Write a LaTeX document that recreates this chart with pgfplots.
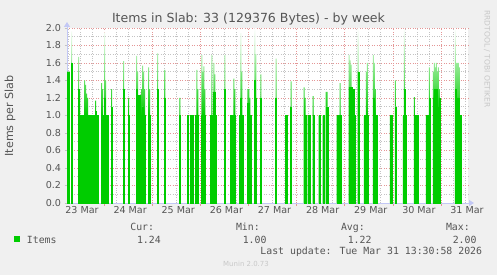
\documentclass[border=0pt]{standalone}
\usepackage{pgfplots}
\pgfplotsset{compat=1.18}
\usepackage{pgfplotstable}
\usepackage{fontspec}
\setmainfont{DejaVu Sans}
\newfontfamily\monofont{DejaVu Sans Mono}
\usetikzlibrary{arrows.meta}
\definecolor{bgc}{RGB}{240,240,240}
\definecolor{txt}{RGB}{85,85,85}
\definecolor{mgrid}{RGB}{228,150,150}
\definecolor{mingrid}{RGB}{195,195,195}
\definecolor{axc}{RGB}{195,200,245}
\definecolor{itemgreen}{RGB}{0,204,0}
\definecolor{faint}{RGB}{200,200,200}

\pgfplotstableread{
x s e
5.75 1.5 0
6.25 1.5 0
7.75 1.6 0.36
11.25 1.3 0.37
11.75 1.0 0.3
12.25 1.0 0
12.75 1.0 0
13.25 1.0 0
13.75 1.0 0
14.25 1.0 0.4
14.75 1.0 0.35
15.25 1.0 0.25
15.75 1.0 0.2
16.25 1.0 0
16.75 1.0 0
17.25 1.0 0
17.75 1.0 0
18.25 1.0 0
18.75 1.0 0
19.75 1.05 0.12
20.25 1.0 0
20.75 1.0 0
22.75 1.0 0.37
23.25 1.0 0.3
23.75 1.0 0
24.25 1.2 0.75
24.75 1.0 0.4
25.25 1.0 0
25.75 1.0 0
27.75 1.1 0.2
33.75 1.3 0.32
36.25 1.0 0.2
40.25 1.3 0.38
40.75 1.0 0.5
41.25 1.23 0
41.75 1.23 0
42.75 1.0 0.3
43.25 1.1 0.47
43.75 1.0 0.5
44.25 1.0 0.3
46.25 1.0 0.55
46.75 1.0 0.3
50.75 1.3 0.41
54.25 1.2 0.32
61.75 1.0 0.2
65.75 1.0 0
67.25 1.0 0
67.75 1.0 0
68.25 1.0 0
69.75 1.0 0
70.25 1.0 0.52
70.75 1.0 0.3
72.75 1.0 0.69
73.25 1.0 0.5
73.75 1.0 0.56
74.25 1.0 0.3
77.25 1.0 0
77.75 1.0 0.69
78.25 1.0 0
78.75 1.27 0.33
79.25 1.27 0.2
79.75 1.0 0
84.25 1.3 0.39
87.25 1.0 0
87.75 1.0 0
88.25 1.0 0
88.75 1.0 0.42
89.25 1.0 0.3
91.75 1.0 0
92.25 1.2 0.74
92.75 1.0 0.5
93.25 1.0 0
95.75 1.14 0.16
96.25 1.14 0.16
96.75 1.0 0.2
97.25 1.0 0
99.25 1.4 0.6
99.75 1.2 0.5
102.25 1.2 0.27
109.75 1.2 0.45
114.75 1.0 0
115.25 1.0 0
117.25 1.1 0.29
123.75 1.0 0.32
124.25 1.0 0.2
125.75 1.0 0
126.25 1.0 0
128.25 1.0 0.22
131.25 1.0 0
133.25 1.0 0
134.75 1.1 0.17
135.25 1.1 0.17
140.25 1.0 0
140.75 1.0 0
141.25 1.0 0
141.75 1.0 0.37
146.25 1.33 0.36
146.75 1.33 0.3
147.25 1.33 0.25
147.75 1.3 0
148.25 1.3 0
148.75 1.0 0.3
150.75 1.5 0.5
153.75 1.0 0
154.25 1.0 0
154.75 1.0 0.5
155.25 1.0 0.6
158.25 1.2 0.49
158.75 1.0 0.6
159.25 1.0 0.3
159.75 1.0 0
166.75 1.0 0
167.25 1.0 0
169.25 1.1 0.3
173.25 1.0 0
173.75 1.3 0.7
174.25 1.0 0
178.75 1.0 0.21
179.25 1.0 0
179.75 1.0 0
180.25 1.0 0
184.75 1.0 0
185.25 1.0 0
186.25 1.2 0.35
188.25 1.2 0.3
188.75 1.3 0.3
189.25 1.0 0.55
189.75 1.3 0.3
190.25 1.1 0.4
190.75 1.0 0.55
191.25 1.2 0.1
199.25 1.3 0.68
199.75 1.0 0.6
200.25 1.2 0.4
200.75 1.2 0.4
201.25 1.0 0.55
201.75 1.0 0
}\slabdata

\begin{document}
\begin{tikzpicture}[x=1bp,y=1bp]
\useasboundingbox (0,0) rectangle (497,275);
\fill[bgc] (0,0) rectangle (497,275);
\fill[white] (67,72) rectangle (468,247);
\begin{axis}[
  at={(67bp,72bp)}, anchor=south west,
  scale only axis, width=401bp, height=175bp,
  xmin=5.5, xmax=205.5, ymin=0, ymax=2,
  axis lines=left,
  axis line style={axc, line width=0.8bp},
  x axis line style={-{Triangle[width=6bp,length=5bp]}, shorten >=-6bp},
  y axis line style={-{Triangle[width=6bp,length=5bp]}, shorten >=-6bp},
  ybar stacked, bar width=0.5,
  xtick={24,48,72,96,120,144,168,192},
  xticklabels={},
  minor xtick={6,12,18,30,36,42,54,60,66,78,84,90,102,108,114,126,132,138,150,156,162,174,180,186,198,204},
  extra x ticks={13,37,61,85,109,133,157,181,205},
  extra x tick labels={23 Mar,24 Mar,25 Mar,26 Mar,27 Mar,28 Mar,29 Mar,30 Mar,31 Mar},
  extra x tick style={grid=none, major tick length=0pt},
  ytick={0,0.2,0.4,0.6,0.8,1,1.2,1.4,1.6,1.8,2},
  minor ytick={0.1,0.3,0.5,0.7,0.9,1.1,1.3,1.5,1.7,1.9},
  yticklabel style={/pgf/number format/.cd, fixed, fixed zerofill, precision=1, assume math mode=true},
  ticklabel style={font=\fontsize{9.6}{11}\selectfont, text=txt},
  grid=both,
  major grid style={mgrid, dash pattern=on 1bp off 1.4bp, line width=0.6bp},
  minor grid style={mingrid, dash pattern=on 1bp off 1.4bp, line width=0.6bp},
  major tick length=2.5bp, minor tick length=0pt,
  xtick style={mgrid, line width=0.6bp},
  ytick style={mingrid, line width=0.6bp},
  tick align=outside,
  clip=false,
]
\addplot[fill=itemgreen, draw=itemgreen, line width=0.15bp] table[x=x,y=s]{\slabdata};
\addplot[draw=none, top color=white, middle color=itemgreen!70!white, bottom color=itemgreen] table[x=x,y=e]{\slabdata};
\end{axis}
\node[text=txt, font=\fontsize{12.6}{14}\selectfont] at (248.5,256) {Items in Slab: 33 (129376 Bytes) - by week};
\node[text=txt, rotate=90, font=\fontsize{11.2}{13}\selectfont] at (10,159) {Items per Slab};
\node[text=faint, rotate=-90, font=\fontsize{7.6}{9}\selectfont] at (487,216) {RRDTOOL / TOBI OETIKER};
\fill[itemgreen] (14,33) rectangle (20,39);
\begin{scope}[every node/.style={text=txt, font=\monofont\fontsize{9.9}{11}\selectfont, inner sep=0pt}]
\node[anchor=base west] at (26.7,32) {Items};
\node[anchor=base east] at (154.3,45) {Cur:};
\node[anchor=base east] at (260,45) {Min:};
\node[anchor=base east] at (365,45) {Avg:};
\node[anchor=base east] at (470,45) {Max:};
\node[anchor=base east] at (161,32) {1.24};
\node[anchor=base east] at (266.7,32) {1.00};
\node[anchor=base east] at (371.7,32) {1.22};
\node[anchor=base east] at (476.7,32) {2.00};
\node[anchor=base east] at (482.3,20.5) {Last update: Tue Mar 31 13:30:58 2026};
\end{scope}
\node[anchor=west, text=faint, inner sep=0pt, font=\fontsize{7}{8}\selectfont] at (223,11) {Munin 2.0.73};
\end{tikzpicture}
\end{document}
